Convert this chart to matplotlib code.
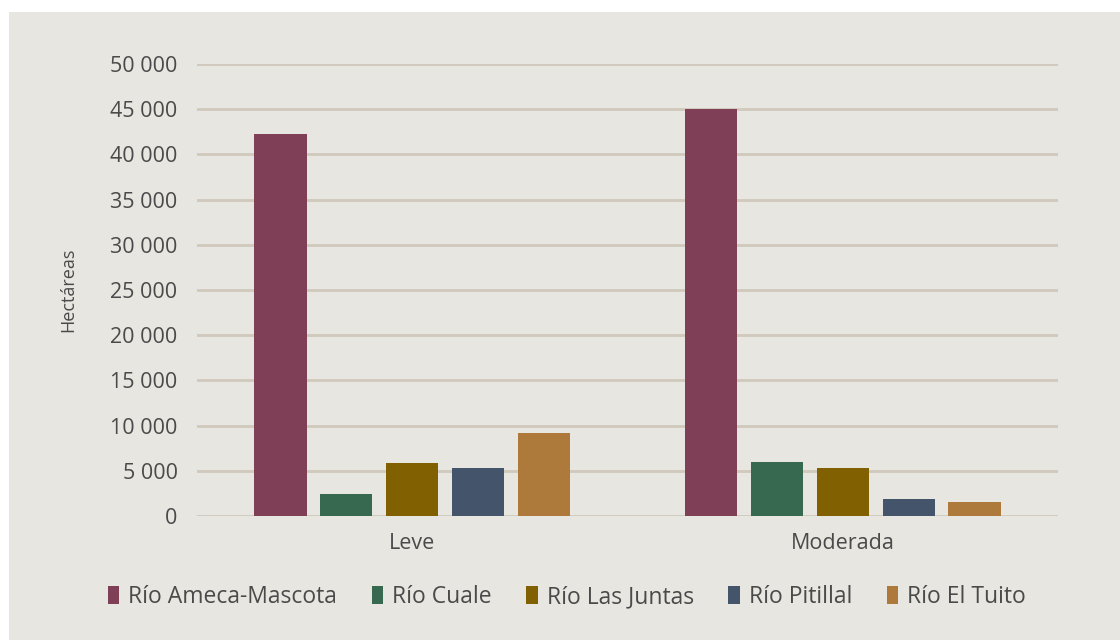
import matplotlib
matplotlib.use("Agg")
import matplotlib.pyplot as plt
from matplotlib.patches import Rectangle
from matplotlib.ticker import FuncFormatter
import numpy as np

categories = ["Leve", "Moderada"]
series = ["Río Ameca-Mascota", "Río Cuale", "Río Las Juntas", "Río Pitillal", "Río El Tuito"]
values = {
    "Río Ameca-Mascota": [42250, 45000],
    "Río Cuale": [2450, 6000],
    "Río Las Juntas": [5850, 5300],
    "Río Pitillal": [5300, 1900],
    "Río El Tuito": [9200, 1550],
}
colors = ["#7F3F57", "#376950", "#806000", "#43546B", "#AE7A3B"]
yticks = [0, 5000, 10000, 15000, 20000, 25000, 30000, 35000, 40000, 45000, 50000]

plt.rcParams['font.family'] = ['Open Sans', 'DejaVu Sans']
text_color = "#4a4a4a"
bg = "#E8E6E1"

fig = plt.figure(figsize=(11.2, 6.4), dpi=100)
fig.patch.set_facecolor("white")
bgrect = Rectangle((9/1120, 0), 1 - 9/1120, 628/640, transform=fig.transFigure,
                   facecolor=bg, edgecolor="none", zorder=-10)
fig.add_artist(bgrect)

ax = fig.add_axes([197/1120, 124/640, (1058-197)/1120, (516-64)/640])
ax.set_facecolor("none")
ax.set_zorder(1)

x = np.arange(len(categories))
width = 0.121
step = 0.153
for i, (s, c) in enumerate(zip(series, colors)):
    ax.bar(x + (i - 2) * step, values[s], width=width, color=c, label=s, zorder=3)

ax.set_xlim(-0.5, 1.5)
ax.set_ylim(0, 50000)
ax.set_yticks(yticks)
ax.yaxis.set_major_formatter(FuncFormatter(lambda v, p: f"{int(v):,}".replace(",", " ")))
ax.set_xticks(x)
ax.set_xticklabels(categories)
ax.grid(axis="y", color="#D0C9BC", linewidth=2, zorder=1)
for sp in ax.spines.values():
    sp.set_visible(False)
ax.tick_params(axis="both", length=0, labelsize=15.5, colors=text_color)
ax.tick_params(axis="y", pad=14)
ax.tick_params(axis="x", pad=12)
ax.set_ylabel("Hectáreas", fontsize=13, color=text_color, labelpad=24)

fig.legend(loc="center", bbox_to_anchor=(567/1120, 1 - 597/640), ncol=5, frameon=False,
           fontsize=16.5, handlelength=0.5, handleheight=0.8, handletextpad=0.4,
           columnspacing=1.5, labelcolor=text_color)

fig.savefig("out.png", dpi=100)
